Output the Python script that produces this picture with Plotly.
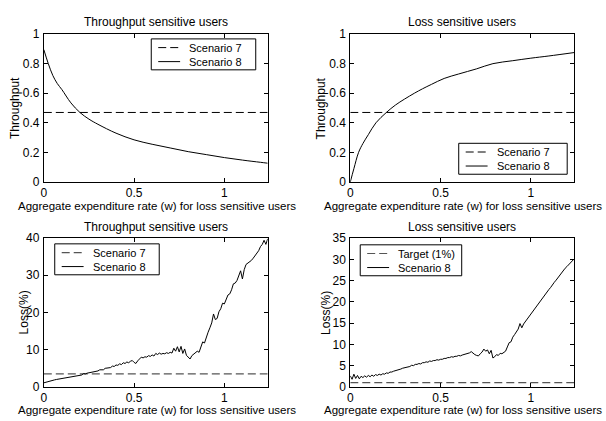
import plotly.graph_objects as go

# ---------------------------------------------------------------
# Data
# ---------------------------------------------------------------
# Throughput of throughput-sensitive users, scenario 8
w_thr_ts = [0.0, 0.025, 0.05, 0.075, 0.1, 0.15, 0.2, 0.25, 0.3, 0.4, 0.5,
            0.6, 0.7, 0.8, 0.9, 1.0, 1.1, 1.2, 1.24]
thr_ts_s8 = [0.895, 0.80, 0.72, 0.665, 0.625, 0.535, 0.47, 0.425, 0.39, 0.33,
             0.285, 0.255, 0.23, 0.205, 0.185, 0.165, 0.148, 0.133, 0.127]
thr_ts_s7 = 0.47

# Throughput of loss-sensitive users, scenario 8
w_thr_ls = [0.0, 0.02, 0.046, 0.07, 0.1, 0.142, 0.2, 0.25, 0.3, 0.355, 0.4,
            0.45, 0.52, 0.6, 0.7, 0.79, 0.9, 1.0, 1.1, 1.24]
thr_ls_s8 = [0.0, 0.09, 0.2, 0.26, 0.32, 0.4, 0.47, 0.52, 0.56, 0.6, 0.63,
             0.66, 0.7, 0.73, 0.765, 0.8, 0.82, 0.837, 0.852, 0.875]
thr_ls_s7 = 0.47

# Loss (%) sampled every 0.01 of the aggregate expenditure rate
w_loss = [round(i * 0.01, 2) for i in range(125)]

loss_ts_s8 = [
    1.1, 1.2, 1.4, 1.5, 1.6, 1.7, 1.9, 2.0, 2.1, 2.2,
    2.3, 2.4, 2.5, 2.6, 2.7, 2.8, 2.9, 2.9, 3.1, 3.0,
    3.3, 3.2, 3.6, 3.5, 3.7, 3.8, 3.9, 4.1, 4.2, 4.4,
    4.3, 4.6, 4.7, 4.6, 5.0, 5.1, 5.3, 5.2, 5.6, 5.5,
    5.9, 5.8, 6.2, 6.0, 6.5, 6.3, 6.7, 6.5, 6.9, 7.1,
    6.6, 6.3, 7.0, 7.6, 8.0, 7.8, 8.1, 8.0, 8.4, 8.2,
    8.6, 8.3, 9.0, 8.7, 9.1, 8.8, 9.0, 8.9, 9.2, 9.0,
    9.3, 9.1, 10.4, 9.6, 10.8, 9.4, 10.9, 9.0, 10.2, 8.5,
    8.0, 7.5, 8.4, 8.8, 9.1, 9.6, 9.3, 10.8, 12.1, 11.8,
    13.6, 14.7, 15.9, 17.2, 19.6, 18.1, 18.4, 20.2, 21.0, 22.5,
    22.3, 23.6, 24.7, 25.0, 26.1, 27.7, 27.9, 28.6, 29.9, 31.2,
    29.0, 31.5, 32.9, 33.2, 33.6, 34.0, 34.6, 35.3, 35.7, 36.6,
    37.7, 38.3, 39.4, 38.3, 39.8,
]
loss_ts_s7 = 3.5

loss_ls_s8 = [
    2.6, 1.8, 3.0, 2.0, 2.7, 1.9, 2.5, 2.2, 2.6, 2.3,
    2.7, 2.4, 2.8, 2.5, 2.9, 2.7, 3.0, 2.8, 3.1, 3.0,
    3.3, 3.2, 3.5, 3.5, 3.7, 3.8, 3.9, 4.1, 4.2, 4.4,
    4.5, 4.6, 4.8, 4.8, 5.1, 5.0, 5.3, 5.3, 5.5, 5.4,
    5.7, 5.7, 5.9, 5.8, 6.1, 6.0, 6.2, 6.2, 6.4, 6.3,
    6.5, 6.5, 6.7, 6.7, 6.9, 6.9, 7.1, 7.0, 7.2, 7.2,
    7.4, 7.3, 7.5, 7.6, 7.7, 7.9, 8.0, 8.3, 7.9, 7.6,
    7.4, 7.3, 7.8, 8.2, 8.9, 8.4, 8.7, 7.8, 8.6, 6.8,
    7.1, 7.6, 7.4, 7.9, 7.8, 8.1, 8.4, 9.4, 10.4, 10.6,
    11.7, 12.3, 12.9, 13.6, 14.9, 13.9, 14.8, 15.4, 16.0, 16.4,
    17.0, 17.6, 18.2, 18.8, 19.4, 20.1, 20.6, 21.2, 21.8, 22.3,
    22.9, 23.4, 24.1, 24.6, 25.1, 25.7, 26.2, 26.8, 27.3, 27.9,
    28.3, 28.8, 29.2, 29.6, 30.1,
]
loss_ls_target = 1.0

x_range = [0, 1.24]
x_ticks = [0, 0.5, 1]
x_ticklabels = ["0", "0.5", "1"]
thr_ticks = [0, 0.2, 0.4, 0.6, 0.8, 1]
thr_ticklabels = ["0", "0.2", "0.4", "0.6", "0.8", "1"]
loss_ts_ticks = [0, 10, 20, 30, 40]
loss_ls_ticks = [0, 5, 10, 15, 20, 25, 30, 35]

titles = ["Throughput sensitive users", "Loss sensitive users",
          "Throughput sensitive users", "Loss sensitive users"]
xlabel = "Aggregate expenditure rate (w) for loss sensitive users"
ylabels = ["Throughput", "Throughput", "Loss(%)", "Loss(%)"]
legend_names = [("Scenario 7", "Scenario 8"), ("Scenario 7", "Scenario 8"),
                ("Scenario 7", "Scenario 8"), ("Target (1%)", "Scenario 8")]

# ---------------------------------------------------------------
# Figure
# ---------------------------------------------------------------
FONT = "Liberation Sans, Arial, Helvetica, sans-serif"
FS = 12
FS_XLABEL = 11.5
FS_LEGEND = 11
W, H = 606, 421
DASH = "8px,4px"

solid_line = dict(color="black", width=1)
dash_top = dict(color="black", width=1, dash=DASH)
dash_bottom = dict(color="#555555", width=1.2, dash=DASH)

fig = go.Figure()


def hline(level, xs):
    return [level for _ in xs]


panels = [
    ("x", "y", (x_range, hline(thr_ts_s7, x_range), dash_top),
     (w_thr_ts, thr_ts_s8, "spline")),
    ("x2", "y2", (x_range, hline(thr_ls_s7, x_range), dash_top),
     (w_thr_ls, thr_ls_s8, "spline")),
    ("x3", "y3", (x_range, hline(loss_ts_s7, x_range), dash_bottom),
     (w_loss, loss_ts_s8, "linear")),
    ("x4", "y4", (x_range, hline(loss_ls_target, x_range), dash_bottom),
     (w_loss, loss_ls_s8, "linear")),
]

for i, (xa, ya, ref, s8) in enumerate(panels):
    fig.add_trace(go.Scatter(x=ref[0], y=ref[1], mode="lines", name=legend_names[i][0],
                             line=ref[2], xaxis=xa, yaxis=ya, showlegend=False))
    fig.add_trace(go.Scatter(x=s8[0], y=s8[1], mode="lines", line_shape=s8[2],
                             name=legend_names[i][1], line=solid_line,
                             xaxis=xa, yaxis=ya, showlegend=False))

# panel geometry in pixels: (left, right, top, bottom)
boxes = [(41, 266, 28, 181), (349, 574, 28, 181),
         (41, 266, 239, 393), (349, 574, 239, 393)]


def px_x(p):
    return p / W


def px_y(p):
    return 1 - p / H


axis_common = dict(showline=True, linecolor="black", linewidth=1, mirror="ticks",
                   ticks="inside", ticklen=4, tickcolor="black", tickwidth=1,
                   showgrid=False, zeroline=False,
                   tickfont=dict(family=FONT, size=FS, color="black"))

y_cfg = [(thr_ticks, thr_ticklabels, [0, 1]),
         (thr_ticks, thr_ticklabels, [0, 1]),
         (loss_ts_ticks, [str(v) for v in loss_ts_ticks], [0, 40]),
         (loss_ls_ticks, [str(v) for v in loss_ls_ticks], [0, 35])]

layout = dict(width=W, height=H, margin=dict(l=0, r=0, t=0, b=0),
              paper_bgcolor="white", plot_bgcolor="white", showlegend=False,
              font=dict(family=FONT, size=FS, color="black"))

for i, (l, r, t, b) in enumerate(boxes):
    sfx = "" if i == 0 else str(i + 1)
    tv, tt, yr = y_cfg[i]
    layout["xaxis" + sfx] = dict(axis_common, domain=[px_x(l), px_x(r)], range=x_range,
                                 tickvals=x_ticks, ticktext=x_ticklabels,
                                 ticklabelstandoff=0, anchor="y" + sfx)
    layout["yaxis" + sfx] = dict(axis_common, domain=[px_y(b), px_y(t)], range=yr,
                                 tickvals=tv, ticktext=tt, ticklabelstandoff=1,
                                 anchor="x" + sfx)

fig.update_layout(**layout)

# legend boxes (left, top, right, bottom) in pixels, styled after the traces
legend_boxes = [(149, 33, 254, 65), (458, 141, 567, 173),
                (52, 245, 157, 277), (359, 246, 461, 278)]
legend_styles = [(dash_top, solid_line), (dash_top, solid_line),
                 (dash_bottom, solid_line), (dash_bottom, solid_line)]
for i, (l, t, r, b) in enumerate(legend_boxes):
    fig.add_shape(type="rect", xref="paper", yref="paper",
                  x0=px_x(l), x1=px_x(r), y0=px_y(b), y1=px_y(t),
                  line=dict(color="black", width=1), fillcolor="white", layer="above")
    for k, off in enumerate((9, 23.5)):
        yy = px_y(t + off)
        fig.add_shape(type="line", xref="paper", yref="paper",
                      x0=px_x(l + 7), x1=px_x(l + 29), y0=yy, y1=yy,
                      line=legend_styles[i][k], layer="above")
        fig.add_annotation(text=legend_names[i][k], xref="paper", yref="paper",
                           x=px_x(l + 36), y=yy, xanchor="left", yanchor="middle",
                           showarrow=False, font=dict(family=FONT, size=FS_LEGEND))

# panel titles and axis labels
title_y = [15, 15, 228, 228]
xlabel_y = [206, 206, 417, 417]
ylabel_x = [12, 320, 22, 325]
for i, (l, r, t, b) in enumerate(boxes):
    cx = (l + r) / 2
    fig.add_annotation(text=titles[i], xref="paper", yref="paper",
                       x=px_x(cx), y=px_y(title_y[i]), xanchor="center", yanchor="middle",
                       showarrow=False, font=dict(family=FONT, size=FS))
    fig.add_annotation(text=xlabel, xref="paper", yref="paper",
                       x=px_x(cx + 1), y=px_y(xlabel_y[i]), xanchor="center",
                       yanchor="middle", showarrow=False,
                       font=dict(family=FONT, size=FS_XLABEL))
    fig.add_annotation(text=ylabels[i], xref="paper", yref="paper", textangle=-90,
                       x=px_x(ylabel_x[i]), y=px_y((t + b) / 2), xanchor="center",
                       yanchor="middle", showarrow=False, font=dict(family=FONT, size=FS))

fig.write_html("out.html")
